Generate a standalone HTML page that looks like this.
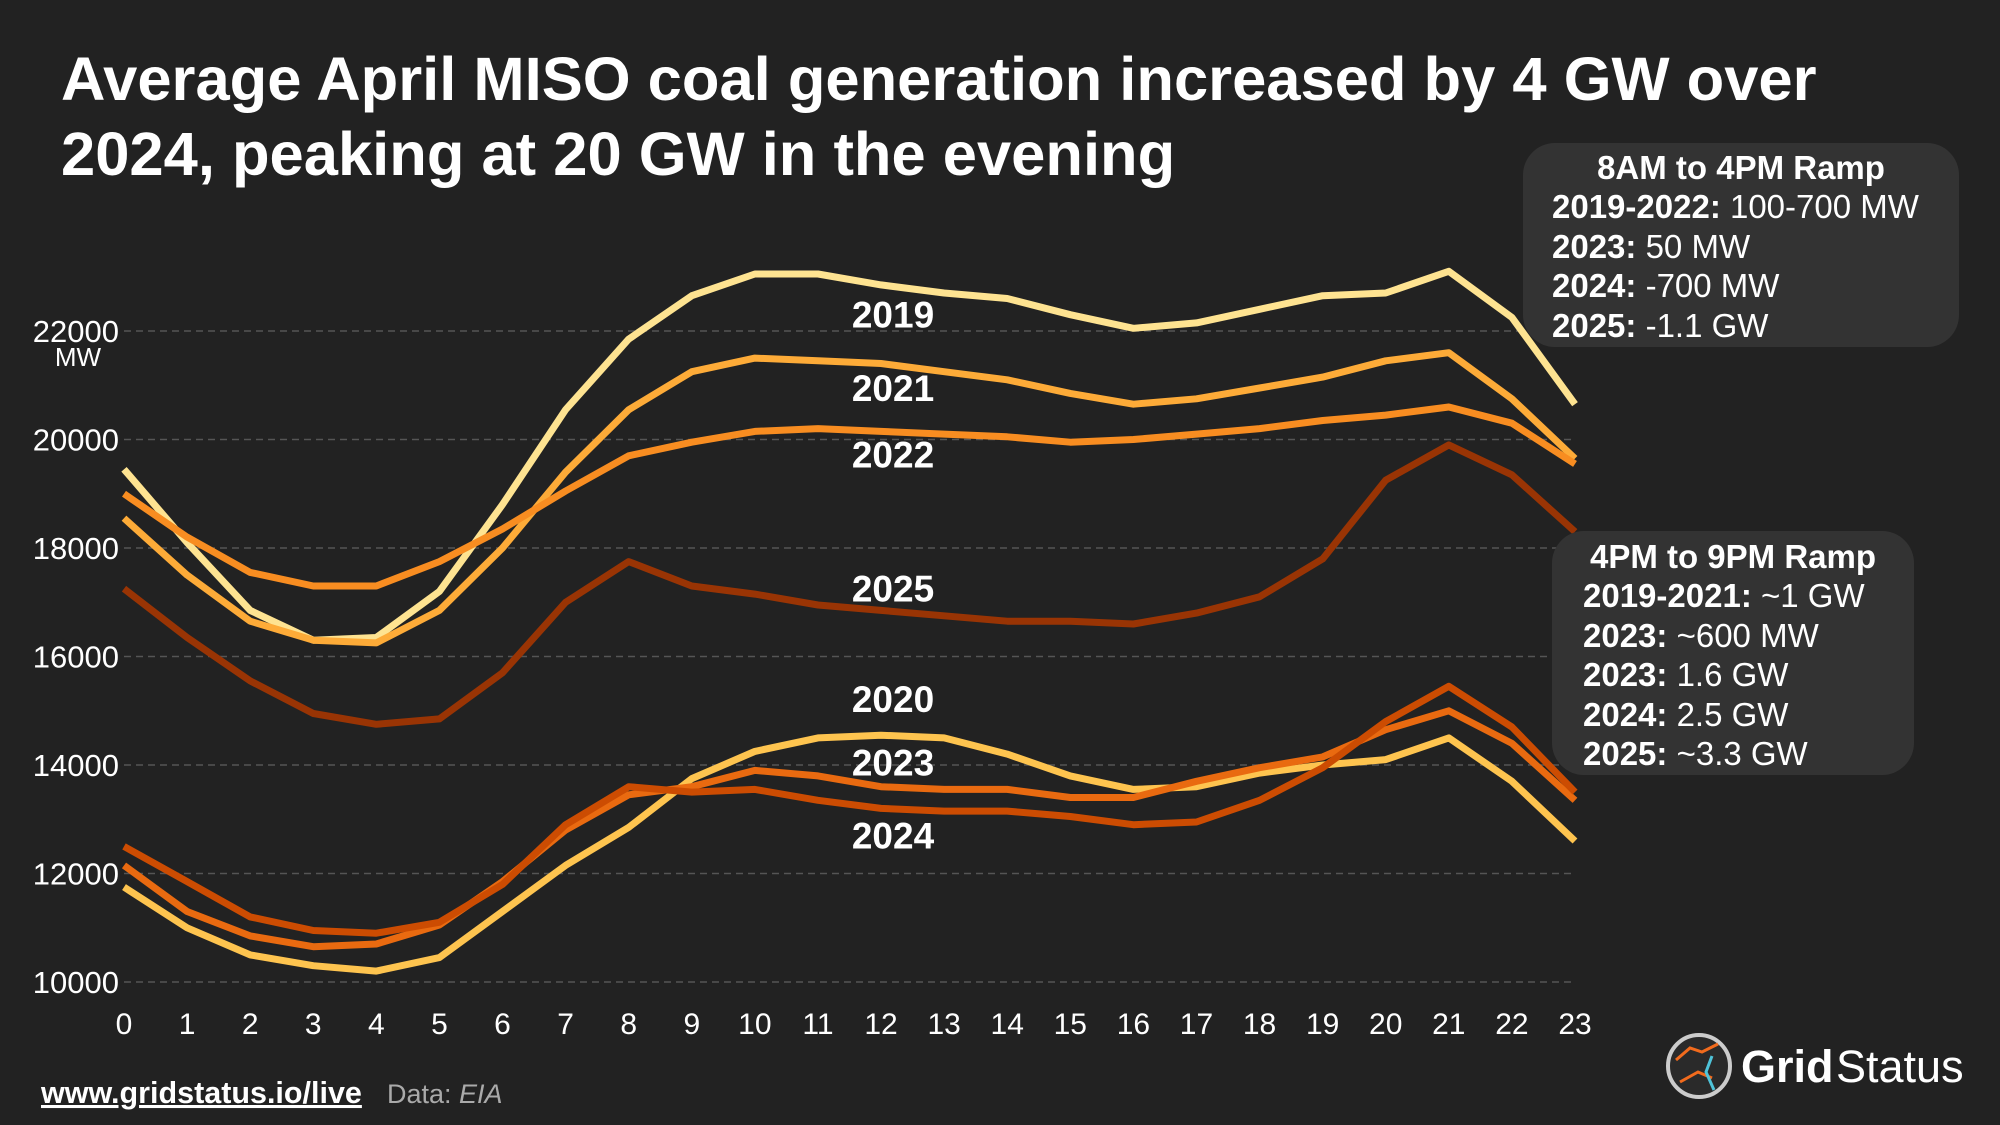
<!DOCTYPE html>
<html><head><meta charset="utf-8">
<style>
html,body{margin:0;padding:0;background:#222;}
svg{display:block;font-family:"Liberation Sans",sans-serif;}
</style></head>
<body>
<svg id="chart" width="2000" height="1125" viewBox="0 0 2000 1125" xmlns="http://www.w3.org/2000/svg">
<rect width="2000" height="1125" fill="#222222"/>
<text x="61" y="100" fill="#fff" font-size="61.5" font-weight="bold">Average April MISO coal generation increased by 4 GW over</text>
<text x="61" y="175" fill="#fff" font-size="61.5" font-weight="bold">2024, peaking at 20 GW in the evening</text>
<g id="grid"></g>
<g id="yticks"></g>
<text x="78" y="366" fill="#fff" font-size="26" text-anchor="middle">MW</text>
<g id="xticks"></g>
<g id="lines"></g>
<g id="labels"></g>

<g>
<rect x="1523" y="143" width="436" height="204" rx="32" fill="#333333"/>
<text x="1741" y="179" fill="#fff" font-size="33" font-weight="bold" text-anchor="middle">8AM to 4PM Ramp</text>
<text x="1552" y="218" fill="#fff" font-size="33"><tspan font-weight="bold">2019-2022:</tspan> 100-700 MW</text>
<text x="1552" y="258" fill="#fff" font-size="33"><tspan font-weight="bold">2023:</tspan> 50 MW</text>
<text x="1552" y="297" fill="#fff" font-size="33"><tspan font-weight="bold">2024:</tspan> -700 MW</text>
<text x="1552" y="337" fill="#fff" font-size="33"><tspan font-weight="bold">2025:</tspan> -1.1 GW</text>
</g>
<g>
<rect x="1552" y="531" width="362" height="244" rx="32" fill="#333333"/>
<text x="1733" y="568" fill="#fff" font-size="33" font-weight="bold" text-anchor="middle">4PM to 9PM Ramp</text>
<text x="1583" y="607" fill="#fff" font-size="33"><tspan font-weight="bold">2019-2021:</tspan> ~1 GW</text>
<text x="1583" y="647" fill="#fff" font-size="33"><tspan font-weight="bold">2023:</tspan> ~600 MW</text>
<text x="1583" y="686" fill="#fff" font-size="33"><tspan font-weight="bold">2023:</tspan> 1.6 GW</text>
<text x="1583" y="726" fill="#fff" font-size="33"><tspan font-weight="bold">2024:</tspan> 2.5 GW</text>
<text x="1583" y="765" fill="#fff" font-size="33"><tspan font-weight="bold">2025:</tspan> ~3.3 GW</text>
</g>

<text x="41" y="1103" fill="#fff" font-size="30.5" font-weight="bold" text-decoration="underline">www.gridstatus.io/live</text>
<text x="387" y="1103" fill="#aaa" font-size="27">Data: <tspan font-style="italic">EIA</tspan></text>
<g>
<circle cx="1699" cy="1066" r="31" fill="#2a2a2a" stroke="#ccc" stroke-width="4"/>
<path d="M1676 1060 L1690 1048 L1702 1052 L1718 1044" stroke="#f26b1d" stroke-width="3" fill="none"/>
<path d="M1680 1082 L1698 1072 L1712 1078" stroke="#f26b1d" stroke-width="3" fill="none"/>
<path d="M1712 1056 L1706 1072 L1714 1090" stroke="#4fc3d9" stroke-width="3" fill="none"/>
<text x="1741" y="1082" fill="#fff" font-size="45" font-weight="bold">Grid</text>
<text x="1836" y="1082" fill="#fff" font-size="45">Status</text>
</g>
</svg>
<script>
const hours = [0,1,2,3,4,5,6,7,8,9,10,11,12,13,14,15,16,17,18,19,20,21,22,23];
const yTicks = [10000,12000,14000,16000,18000,20000,22000];
const seriesNames = ["2019","2020","2021","2022","2023","2024","2025"];
const s2019 = [19450,18100,16850,16300,16350,17200,18800,20550,21850,22650,23050,23050,22850,22700,22600,22300,22050,22150,22400,22650,22700,23100,22250,20650];
const s2020 = [11750,11000,10500,10300,10200,10450,11300,12150,12850,13750,14250,14500,14550,14500,14200,13800,13550,13600,13850,14000,14100,14500,13700,12600];
const s2021 = [18550,17500,16650,16300,16250,16850,18000,19400,20550,21250,21500,21450,21400,21250,21100,20850,20650,20750,20950,21150,21450,21600,20750,19650];
const s2022 = [19000,18200,17550,17300,17300,17750,18350,19050,19700,19950,20150,20200,20150,20100,20050,19950,20000,20100,20200,20350,20450,20600,20300,19550];
const s2023 = [12150,11300,10850,10650,10700,11050,11850,12800,13450,13600,13900,13800,13600,13550,13550,13400,13400,13700,13950,14150,14650,15000,14400,13350];
const s2024 = [12500,11850,11200,10950,10900,11100,11800,12900,13600,13500,13550,13350,13200,13150,13150,13050,12900,12950,13350,13950,14800,15450,14700,13500];
const s2025 = [17250,16350,15550,14950,14750,14850,15700,17000,17750,17300,17150,16950,16850,16750,16650,16650,16600,16800,17100,17800,19250,19900,19350,18300];
const labelValues = [22300,15220,20950,19720,14050,12700,17250];

const NS="http://www.w3.org/2000/svg";
const X0=124,X1=1575,Y22=331,Y10=982;
const xs=h=>X0+(h-hours[0])*(X1-X0)/(hours[hours.length-1]-hours[0]);
const ys=v=>Y10-(v-10000)*(Y10-Y22)/12000;
function mk(tag,attrs,parent){const e=document.createElementNS(NS,tag);for(const k in attrs)e.setAttribute(k,attrs[k]);parent.appendChild(e);return e;}
const grid=document.getElementById('grid'),yt=document.getElementById('yticks'),xt=document.getElementById('xticks');
yTicks.forEach(v=>{
  const l=mk('line',{x1:X0,x2:X1,y1:ys(v),y2:ys(v),stroke:'#555','stroke-width':1.5,'stroke-dasharray':'7,5'},grid);
  
  
  const t=mk('text',{x:119,y:ys(v)+11,fill:'#fff','font-size':31,'text-anchor':'end'},yt);
  t.textContent=v;
  
  
});
hours.forEach(h=>{
  const t=mk('text',{x:xs(h),y:1034,fill:'#fff','font-size':30,'text-anchor':'middle'},xt);
  t.textContent=h;
  
  
});
const data={"2019":s2019,"2020":s2020,"2021":s2021,"2022":s2022,"2023":s2023,"2024":s2024,"2025":s2025};
const colors={"2019":"#fee391","2020":"#fec44f","2021":"#fdab38","2022":"#f88d21","2023":"#e96a10","2024":"#cc4c02","2025":"#993404"};
const order=["2025","2019","2021","2022","2020","2023","2024"];
const lg=document.getElementById('lines');
order.forEach(n=>{
  const d=data[n].map((v,i)=>(i?'L':'M')+xs(hours[i]).toFixed(1)+' '+ys(v).toFixed(1)).join(' ');
  const p=mk('path',{d:d,fill:'none',stroke:colors[n],'stroke-width':7,'stroke-linejoin':'round'},lg);
  
  
});
const lb=document.getElementById('labels');
seriesNames.forEach((n,i)=>{
  const t=mk('text',{x:893,y:ys(labelValues[i])+13,fill:'#fff','font-size':37,'font-weight':'bold','text-anchor':'middle'},lb);
  t.textContent=n;
  
  
});
</script>
</body></html>
